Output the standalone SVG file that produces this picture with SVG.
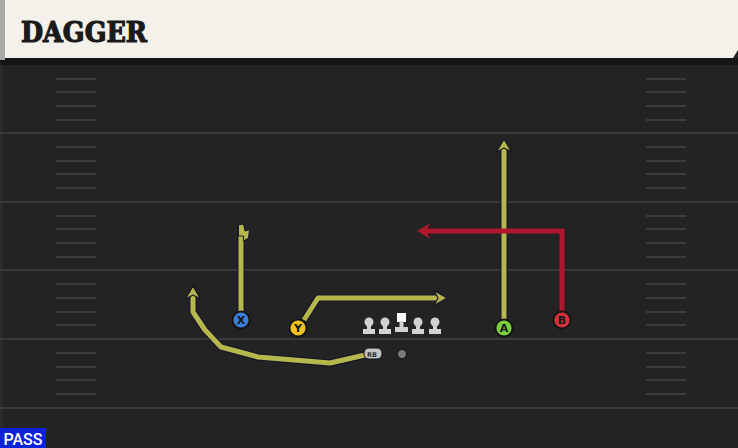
<svg xmlns="http://www.w3.org/2000/svg" width="738" height="448" viewBox="0 0 738 448">
<defs>
<style>
.yl{stroke:#3a3a3a;stroke-width:2}
.hm{stroke:#3c3c3c;stroke-width:2}
.rt{fill:none;stroke:#17172a;stroke-width:7.5;stroke-linejoin:round;stroke-linecap:butt}
.ol{fill:none;stroke:#b6b84c;stroke-width:5;stroke-linejoin:round}
.rd{fill:none;stroke:#b0172f;stroke-width:5;stroke-linejoin:miter}
.oh{fill:#b6b84c;stroke:#17172a;stroke-width:1.2;stroke-linejoin:round}
.rh{fill:#b0172f}
.lbl{font-family:"DejaVu Sans","Liberation Sans",sans-serif;font-weight:bold;font-size:11px;fill:#151515;text-anchor:middle}
.pc{stroke:#151515;stroke-width:1.8}
.ln{fill:#d2d2d2}
</style>
</defs>
<rect width="738" height="448" fill="#232323"/>
<rect x="0" y="64" width="3" height="384" fill="#2c2c2c"/>
<g id="field">
<line class="yl" x1="0" y1="133" x2="738" y2="133"/>
<line class="yl" x1="0" y1="202" x2="738" y2="202"/>
<line class="yl" x1="0" y1="270" x2="738" y2="270"/>
<line class="yl" x1="0" y1="339" x2="738" y2="339"/>
<line class="yl" x1="0" y1="408" x2="738" y2="408"/>
<g id="hash-left">
<path class="hm" d="M56 79H96M56 92H96M56 106H96M56 120H96M56 147H96M56 161H96M56 174H96M56 188H96M56 216H96M56 229H96M56 243H96M56 257H96M56 284H96M56 298H96M56 312H96M56 325H96M56 353H96M56 367H96M56 380H96M56 394H96"/>
</g>
<g id="hash-right">
<path class="hm" d="M646 79H686M646 92H686M646 106H686M646 120H686M646 147H686M646 161H686M646 174H686M646 188H686M646 216H686M646 229H686M646 243H686M646 257H686M646 284H686M646 298H686M646 312H686M646 325H686M646 353H686M646 367H686M646 380H686M646 394H686"/>
</g>
</g>
<g id="header">
<rect x="0" y="58" width="738" height="7" fill="#151515"/>
<path d="M5 0H738V50L733 58H5Z" fill="#f4f1ea"/>
<rect x="0" y="0" width="5" height="60" fill="#a9aaa6"/>
<text x="21" y="42" font-family="'DejaVu Serif','Liberation Serif',serif" font-weight="900" font-size="27" textLength="126" lengthAdjust="spacingAndGlyphs" fill="#1a1a1a" stroke="#1a1a1a" stroke-width="1.2">DAGGER</text>
</g>
<g id="connectors">
<path class="rt" d="M241 314V227"/>
<path class="ol" d="M241 314V227"/>
<path d="M238.5 225L243.5 224L245 231L249.5 229.5L248.5 238L243.5 241L243.5 236L238.5 236Z" fill="#b6b84c" stroke="#17172a" stroke-width="1" stroke-linejoin="round"/>
<path class="rt" d="M304 320L318 298H439"/>
<path class="ol" d="M304 320L318 298H439"/>
<path class="oh" d="M447 298L434 290.5L438 298L434 305.5Z"/>
<path class="rt" d="M365 355L330 363L258 357L221 347L205 330L193 312V294"/>
<path class="ol" d="M365 355L330 363L258 357L221 347L205 330L193 312V294"/>
<path class="oh" d="M193 286L185.5 299L193 295L200.5 299Z"/>
<path class="rt" d="M504 320V147"/>
<path class="ol" d="M504 320V147"/>
<path class="oh" d="M504 139L496.5 152L504 148L511.5 152Z"/>
<path class="rd" d="M562 312V231H425"/>
<path class="rh" d="M417 231L430 223.5L426 231L430 238.5Z"/>
</g>
<g id="node-x"><circle class="pc" cx="241" cy="320" r="8.5" fill="#3c7ed6"/><text class="lbl" x="241" y="324">X</text></g>
<g id="node-y"><circle class="pc" cx="298" cy="328" r="8.5" fill="#f1c21e"/><text class="lbl" x="298" y="332">Y</text></g>
<g id="node-a"><circle class="pc" cx="504" cy="328" r="8.5" fill="#7bce3f"/><text class="lbl" x="504" y="332">A</text></g>
<g id="node-b"><circle class="pc" cx="562" cy="320" r="8.5" fill="#d8303f"/><text class="lbl" x="562" y="324">B</text></g>
<g id="node-rb"><rect x="364" y="348" width="18" height="11" rx="5" fill="#c4c4c4" stroke="#151515" stroke-width="1"/><text x="372" y="356.5" font-family="'DejaVu Sans',sans-serif" font-size="6.5" font-weight="bold" fill="#333" text-anchor="middle">RB</text></g>
<g id="node-qb"><circle cx="402" cy="354" r="4.5" fill="#7a7a7a" stroke="#151515" stroke-width="1"/></g>
<g id="node-line">
<g class="ln"><circle cx="369" cy="322" r="4.5"/><rect x="367" y="322" width="4" height="8"/><rect x="363" y="329" width="12" height="5"/></g>
<g class="ln"><circle cx="385" cy="322" r="4.5"/><rect x="383" y="322" width="4" height="8"/><rect x="379" y="329" width="12" height="5"/></g>
<g class="ln"><rect x="397" y="313" width="9" height="9" fill="#fafafa"/><rect x="399.5" y="321" width="4" height="7"/><rect x="395" y="327" width="13" height="5"/></g>
<g class="ln"><circle cx="418" cy="322" r="4.5"/><rect x="416" y="322" width="4" height="8"/><rect x="412" y="329" width="12" height="5"/></g>
<g class="ln"><circle cx="435" cy="322" r="4.5"/><rect x="433" y="322" width="4" height="8"/><rect x="429" y="329" width="12" height="5"/></g>
</g>
<g id="badge"><rect x="0" y="428" width="46" height="20" fill="#0b22d8"/><text x="23" y="444.5" font-family="Roboto,'Liberation Sans',sans-serif" font-size="16" font-weight="500" fill="#ffffff" text-anchor="middle">PASS</text></g>
</svg>
